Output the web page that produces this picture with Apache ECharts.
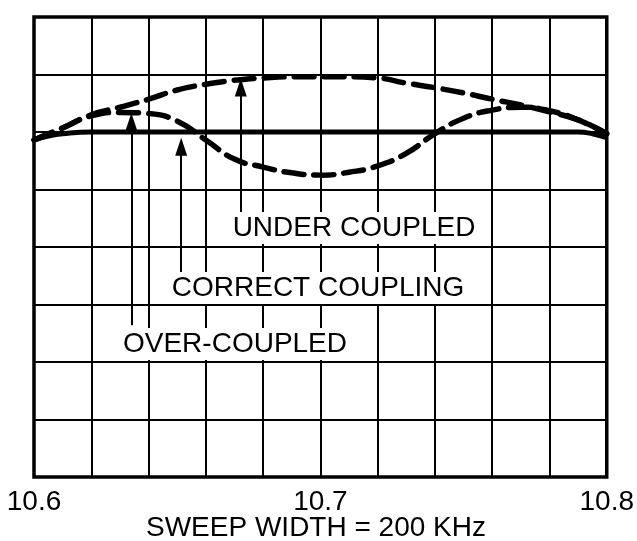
<!DOCTYPE html>
<html><head><meta charset="utf-8">
<script src="https://cdn.jsdelivr.net/npm/echarts@6/dist/echarts.min.js"></script>
<style>html,body{margin:0;padding:0;background:#fff}#c{width:637px;height:541px}</style>
</head><body><div id="c"></div>
<script>
// Frequency (MHz)
const freq = [10.60,10.61,10.62,10.63,10.64,10.65,10.66,10.67,10.68,10.69,10.70,10.71,10.72,10.73,10.74,10.75,10.76,10.77,10.78,10.79,10.80];
// Relative response (grid divisions, 0..8)
const underCoupled = [5.86,6.07,6.30,6.43,6.57,6.73,6.83,6.90,6.94,6.96,6.96,6.96,6.94,6.85,6.77,6.68,6.57,6.47,6.35,6.21,5.97];
const overCoupled  = [5.86,6.07,6.28,6.34,6.32,6.19,5.86,5.53,5.39,5.29,5.25,5.30,5.41,5.63,5.97,6.24,6.38,6.43,6.37,6.21,5.97];
const correctFreq  = [10.600,10.605,10.610,10.620,10.640,10.660,10.680,10.700,10.720,10.740,10.760,10.780,10.790,10.795,10.800];
const correct      = [5.86,5.93,5.97,6.00,6.00,6.00,6.00,6.00,6.00,6.00,6.00,6.00,6.00,5.97,5.90];
const xTickLabels = ['10.6','10.7','10.8'];
// Annotation arrows: [freq, bottom, tip]
const arrows = [[10.6722,4.56,6.93],[10.6514,3.53,5.90],[10.634,2.64,6.33]];
const labels = ['UNDER COUPLED','CORRECT COUPLING','OVER-COUPLED'];
const axisName = 'SWEEP WIDTH = 200 KHz';

const FONT = 'Liberation Sans';
const zip = (a,b)=>a.map((v,i)=>[v,b[i]]);
const chart = echarts.init(document.getElementById('c'), null, {renderer:'canvas'});
const dash = [20,10];
const HEAD = 18, DIV = 57.5; // arrowhead length px, px per y-division
const txt = (id,x,y,t,bg)=>({id,type:'text',x,y,z:100,
  style:{text:t,fill:'#000',font:'28px '+FONT,align:'center',verticalAlign:'middle',
    backgroundColor:bg?'#fff':null,padding:bg?[2,4]:0}});
chart.setOption({
  animation:false,
  grid:{left:34,top:17,right:27,bottom:64,show:true,borderColor:'#000',borderWidth:3.5,backgroundColor:'#fff'},
  xAxis:{type:'value',min:10.6,max:10.8,interval:0.02,
    axisLine:{show:false},axisTick:{show:false},
    splitLine:{show:true,lineStyle:{color:'#000',width:2}},
    axisLabel:{color:'#000',fontSize:28,fontFamily:FONT,margin:11,
      formatter:v=>{const s=v.toFixed(1);return (Math.abs(v*10-Math.round(v*10))<1e-6 && xTickLabels.includes(s))?s:'';}}},
  yAxis:{type:'value',min:0,max:8,interval:1,
    axisLine:{show:false},axisTick:{show:false},axisLabel:{show:false},
    splitLine:{show:true,lineStyle:{color:'#000',width:2}}},
  series:[
    {name:'correct',type:'line',data:zip(correctFreq,correct),smooth:true,symbol:'none',
      lineStyle:{color:'#000',width:5},z:5,
      markLine:{silent:true,symbol:['none','triangle'],symbolSize:[12,HEAD],
        lineStyle:{color:'#000',width:2,type:'solid'},label:{show:false},
        data:arrows.map(a=>[{coord:[a[0],a[1]]},{coord:[a[0],a[2]-HEAD/2/DIV]}])}},
    {name:'under',type:'line',data:zip(freq,underCoupled),smooth:true,symbol:'none',
      lineStyle:{color:'#000',width:5.5,type:dash,cap:'round'},z:4},
    {name:'over',type:'line',data:zip(freq,overCoupled),smooth:true,symbol:'none',
      lineStyle:{color:'#000',width:5.5,type:dash,cap:'round'},z:4}
  ],
  graphic:[
    txt('t0',354,228,labels[0],true),
    txt('t1',318,288,labels[1],true),
    txt('t2',235,344,labels[2],true),
    txt('t3',316,528,axisName,false)
  ]
});
</script></body></html>
